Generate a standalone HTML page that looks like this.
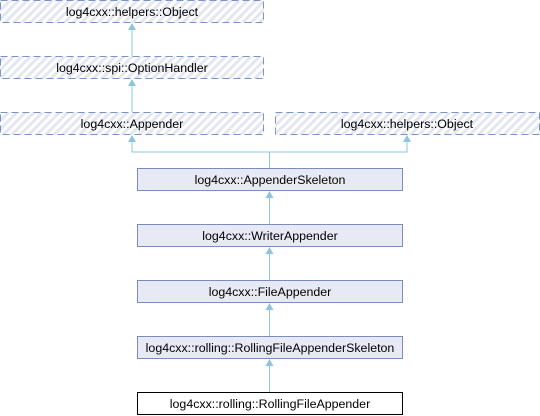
<!DOCTYPE html>
<html><head><meta charset="utf-8"><style>
html,body{margin:0;padding:0;background:#fff;}
svg{display:block;}
text{font-family:"Liberation Sans",Arial,sans-serif;font-size:12.4px;fill:#000;}
</style></head><body>
<svg width="540" height="416" viewBox="0 0 540 416" xmlns="http://www.w3.org/2000/svg">
<defs>
<pattern id="h" width="6" height="6" patternUnits="userSpaceOnUse" patternTransform="rotate(45)">
<rect width="6" height="6" fill="#fff"/><rect width="3" height="6" fill="#e3e7f1"/>
</pattern>
</defs>
<g stroke="#7b93c7" stroke-width="1" stroke-dasharray="7,4" fill="url(#h)">
<rect x="0.5" y="0.5" width="263" height="22"/>
<rect x="0.5" y="56.5" width="263" height="22"/>
<rect x="0.5" y="112.5" width="263" height="22"/>
<rect x="275.5" y="112.5" width="264" height="22"/>
</g>
<g stroke="#7b8cbd" fill="#e7eaf4">
<rect x="137.5" y="168.5" width="265" height="22"/>
<rect x="137.5" y="224.5" width="265" height="22"/>
<rect x="137.5" y="280.5" width="265" height="22"/>
<rect x="137.5" y="336.5" width="265" height="22"/>
</g>
<rect x="137.5" y="392.5" width="265" height="22" fill="#fff" stroke="#000"/>
<g stroke="#8fc4e0" fill="none">
<path d="M132 56V24M132 112V80M132 136V152H407V136M269.5 152V168M269.5 224V192M269.5 280V248M269.5 336V304M269.5 392V360"/>
</g>
<g fill="#8fc4e0">
<path d="M132 23l-4 7h8zM132 79l-4 7h8zM132 135l-4 7h8zM407 135l-4 7h8zM269.5 191l-4 7h8zM269.5 247l-4 7h8zM269.5 303l-4 7h8zM269.5 359l-4 7h8z"/>
</g>
<g text-anchor="middle">
<text x="132" y="16">log4cxx::helpers::Object</text>
<text x="132" y="72">log4cxx::spi::OptionHandler</text>
<text x="132" y="128">log4cxx::Appender</text>
<text x="407" y="128">log4cxx::helpers::Object</text>
<text x="270" y="184">log4cxx::AppenderSkeleton</text>
<text x="270" y="240">log4cxx::WriterAppender</text>
<text x="270" y="296">log4cxx::FileAppender</text>
<text x="270" y="352">log4cxx::rolling::RollingFileAppenderSkeleton</text>
<text x="270" y="408">log4cxx::rolling::RollingFileAppender</text>
</g>
</svg>
</body></html>
